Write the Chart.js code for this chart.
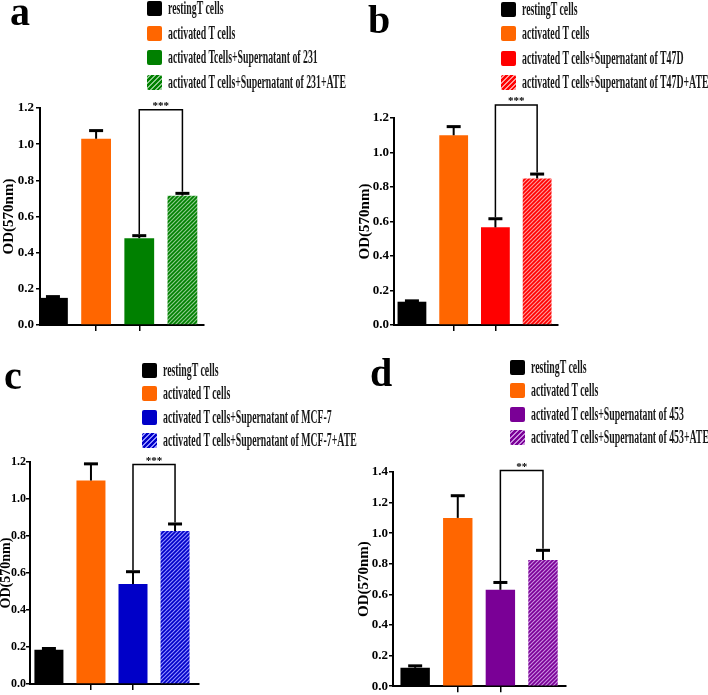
<!DOCTYPE html>
<html lang="en">
<head>
  <meta charset="UTF-8" />
  <title>OD(570nm) of T cells</title>
  <script src="https://cdn.jsdelivr.net/npm/chart.js"></script>
  <style>
    body { margin: 0; background: #fff; overflow: hidden; }
    #wrap { position: relative; width: 708px; height: 695px; }
    .panel { position: absolute; }
    .letter {
      position: absolute;
      font-family: "Liberation Serif", serif;
      font-weight: bold;
      font-size: 40px;
      line-height: 1;
      color: #000;
    }
    .legend { position: absolute; font-family: "Liberation Serif", serif; font-weight: bold; }
    .row { position: absolute; left: 0; height: 16px; white-space: nowrap; }
    .sw { position: absolute; left: 0; top: 1px; width: 15px; height: 15px; border-radius: 2px; }
    .txt {
      position: absolute; left: 21px; top: -2px;
      font-size: 18px; line-height: 20px; color: #1a1a1a;
      transform: scaleX(0.545); transform-origin: left center;
    }
  </style>
</head>
<body>
  <div id="wrap"></div>

  <script>
    // 공통 x 위치 (막대 4개)
    const xs = [1, 2, 3, 4];

    // a : 231
    const labelsA = ["restingT cells", "activated T cells", "activated Tcells+Supernatant of 231", "activated T cells+Supernatant of 231+ATE"];
    const valuesA = [0.15, 1.03, 0.48, 0.715];
    const errorsA = [0.007, 0.045, 0.014, 0.013];

    // b : T47D
    const labelsB = ["restingT cells", "activated T cells", "activated T cells+Supernatant of T47D", "activated T cells+Supernatant of T47D+ATE"];
    const valuesB = [0.135, 1.10, 0.566, 0.85];
    const errorsB = [0.005, 0.05, 0.05, 0.025];

    // c : MCF-7
    const labelsC = ["restingT cells", "activated T cells", "activated T cells+Supernatant of MCF-7", "activated T cells+Supernatant of MCF-7+ATE"];
    const valuesC = [0.185, 1.10, 0.54, 0.827];
    const errorsC = [0.007, 0.09, 0.067, 0.038];

    // d : 453
    const labelsD = ["restingT cells", "activated T cells", "activated T cells+Supernatant of 453", "activated T cells+Supernatant of 453+ATE"];
    const valuesD = [0.12, 1.10, 0.63, 0.825];
    const errorsD = [0.013, 0.145, 0.048, 0.063];

    const panels = [
      { id: "a", labels: labelsA, values: valuesA, errors: errorsA, color: "#008000", light: "#8cc98c",
        sig: "***", sigY: 1.19, yMax: 1.2, xMin: 0.7, xMax: 4.5,
        box: [0, 0, 354, 345], pad: { left: 0, top: 108, right: 150, bottom: 14 }, yW: 40,
        tickSize: 13, tickPad: 2, titleSize: 15,
        letter: [10, -8], legend: [147, 0], gap: 24.6 },
      { id: "b", labels: labelsB, values: valuesB, errors: errorsB, color: "#ff0000", light: "#ff9a9a",
        sig: "***", sigY: 1.275, yMax: 1.2, xMin: 0.57, xMax: 4.5,
        box: [354, 0, 354, 345], pad: { left: 2, top: 118, right: 150, bottom: 14 }, yW: 38,
        tickSize: 13, tickPad: 1, titleSize: 15,
        letter: [14, 0], legend: [147, 1], gap: 24.3 },
      { id: "c", labels: labelsC, values: valuesC, errors: errorsC, color: "#0000c8", light: "#8f8fff",
        sig: "***", sigY: 1.187, yMax: 1.2, xMin: 0.55, xMax: 4.57,
        box: [0, 345, 354, 350], pad: { left: -2, top: 117, right: 155, bottom: 5 }, yW: 32,
        tickSize: 12, tickPad: 0, titleSize: 14,
        letter: [4, 11], legend: [142, 17], gap: 23.4 },
      { id: "d", labels: labelsD, values: valuesD, errors: errorsD, color: "#7a0096", light: "#c98ce0",
        sig: "**", sigY: 1.41, yMax: 1.4, xMin: 0.48, xMax: 4.54,
        box: [354, 345, 354, 350], pad: { left: 1, top: 127, right: 142, bottom: 1 }, yW: 38,
        tickSize: 13, tickPad: 1, titleSize: 15,
        letter: [16, 8], legend: [156, 14], gap: 23.4 }
    ];

    // 빗금 패턴
    function hatch(base, light) {
      const c = document.createElement("canvas");
      c.width = 4; c.height = 4;
      const g = c.getContext("2d");
      g.fillStyle = base;
      g.fillRect(0, 0, 4, 4);
      g.strokeStyle = light;
      g.lineWidth = 1.2;
      g.beginPath();
      g.moveTo(0, 4); g.lineTo(4, 0);
      g.moveTo(-1, 1); g.lineTo(1, -1);
      g.moveTo(3, 5); g.lineTo(5, 3);
      g.stroke();
      return g.createPattern(c, "repeat");
    }

    // 오차막대 + 유의성 표시
    function errorPlugin(p) {
      return {
        id: "errorBars" + p.id,
        afterDatasetsDraw(chart) {
          const ctx = chart.ctx;
          const x = chart.scales.x, y = chart.scales.y;
          const line = (x0, y0, x1, y1) => { ctx.beginPath(); ctx.moveTo(x0, y0); ctx.lineTo(x1, y1); ctx.stroke(); };
          ctx.save();
          ctx.strokeStyle = "#000";
          const tops = [];
          p.values.forEach((v, i) => {
            const px = x.getPixelForValue(xs[i]);
            const y0 = y.getPixelForValue(v);
            const y1 = y.getPixelForValue(v + p.errors[i]);
            ctx.lineWidth = 2;
            line(px, y0, px, y1);
            ctx.lineWidth = 3;
            line(px - 7, y1, px + 7, y1);
            tops.push(y1 - 1.5);
          });
          const xl = x.getPixelForValue(xs[2]);
          const xr = x.getPixelForValue(xs[3]);
          const yb = y.getPixelForValue(p.sigY);
          ctx.lineWidth = 1.5;
          ctx.beginPath();
          ctx.moveTo(xl, tops[2]);
          ctx.lineTo(xl, yb);
          ctx.lineTo(xr, yb);
          ctx.lineTo(xr, tops[3]);
          ctx.stroke();
          ctx.fillStyle = "#000";
          ctx.font = "bold 11px 'Liberation Serif'";
          ctx.textAlign = "center";
          ctx.textBaseline = "bottom";
          ctx.fillText(p.sig, (xl + xr) / 2, yb + 2);
          ctx.restore();
        }
      };
    }

    const wrap = document.getElementById("wrap");

    panels.forEach(p => {
      const [L, T, W, H] = p.box;
      const div = document.createElement("div");
      div.className = "panel";
      div.style.left = L + "px"; div.style.top = T + "px";
      div.style.width = W + "px"; div.style.height = H + "px";
      const cv = document.createElement("canvas");
      cv.width = W; cv.height = H;
      div.appendChild(cv);

      // 패널 글자
      const lt = document.createElement("div");
      lt.className = "letter";
      lt.style.left = p.letter[0] + "px"; lt.style.top = p.letter[1] + "px";
      lt.textContent = p.id;
      div.appendChild(lt);

      wrap.appendChild(div);

      const colors = ["#000000", "#ff6600", p.color, hatch(p.color, p.light)];
      const swatches = ["#000000", "#ff6600", p.color,
        `repeating-linear-gradient(135deg, ${p.color} 0 2px, ${p.light} 2px 3.4px)`];

      // 범례 (HTML)
      const lg = document.createElement("div");
      lg.className = "legend";
      lg.style.left = p.legend[0] + "px"; lg.style.top = p.legend[1] + "px";
      p.labels.forEach((t, i) => {
        const r = document.createElement("div");
        r.className = "row";
        r.style.top = (i * p.gap) + "px";
        r.innerHTML = `<span class="sw" style="background:${swatches[i]}"></span><span class="txt">${t}</span>`;
        lg.appendChild(r);
      });
      div.appendChild(lg);

      new Chart(cv.getContext("2d"), {
        type: "bar",
        data: {
          datasets: [{
            data: xs.map((x, i) => ({ x: x, y: p.values[i] })),
            backgroundColor: colors,
            borderWidth: 0,
            barPercentage: 0.69,
            categoryPercentage: 1
          }]
        },
        options: {
          responsive: false,
          animation: false,
          events: [],
          layout: { padding: p.pad },
          plugins: { legend: { display: false }, tooltip: { enabled: false } },
          scales: {
            x: {
              type: "linear",
              min: p.xMin,
              max: p.xMax,
              offset: false,
              afterBuildTicks: s => { s.ticks = s.ticks.filter(t => Number.isInteger(t.value) && t.value >= 1 && t.value <= 4); },
              afterFit: s => { s.height = 6; },
              ticks: { display: false, stepSize: 1 },
              grid: { drawOnChartArea: false, drawTicks: true, tickLength: 6, color: "#000", lineWidth: 1.5, offset: false },
              border: { color: "#000", width: 2 }
            },
            y: {
              min: 0,
              max: p.yMax,
              afterFit: s => { s.width = p.yW; },
              ticks: {
                stepSize: 0.2,
                padding: p.tickPad,
                color: "#000",
                font: { family: "Liberation Serif", weight: "bold", size: p.tickSize },
                callback: v => v.toFixed(1)
              },
              grid: { drawOnChartArea: false, drawTicks: true, tickLength: 4, color: "#000", lineWidth: 1.5 },
              border: { color: "#000", width: 2 },
              title: {
                display: true,
                text: "OD(570nm)",
                color: "#000",
                padding: 0,
                font: { family: "Liberation Serif", weight: "bold", size: p.titleSize }
              }
            }
          }
        },
        plugins: [errorPlugin(p)]
      });
    });
  </script>
</body>
</html>
